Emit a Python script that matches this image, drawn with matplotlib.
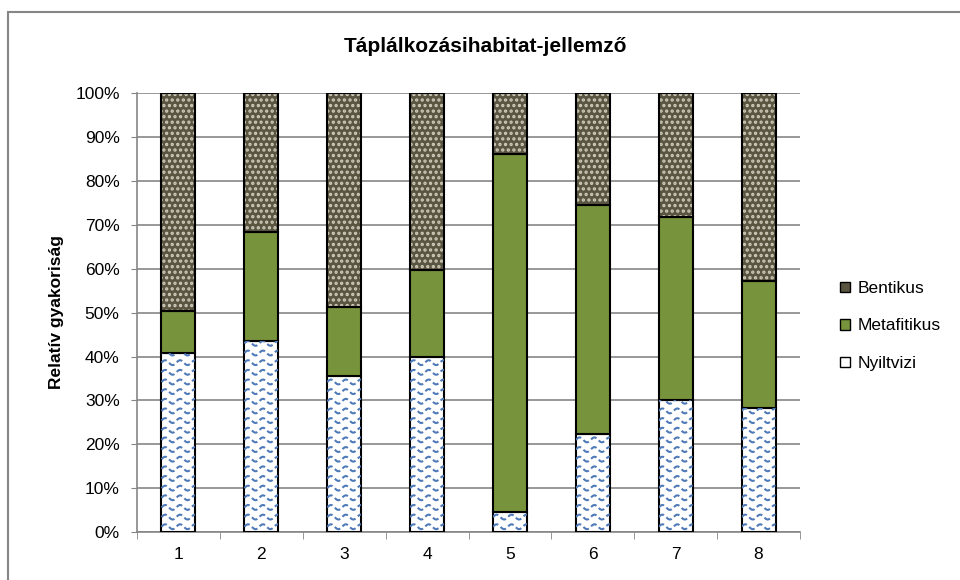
import matplotlib
matplotlib.use("Agg")
import matplotlib.pyplot as plt
import numpy as np
from matplotlib.patches import Patch, Rectangle

plt.rcParams['font.family'] = ['Liberation Sans', 'DejaVu Sans']
plt.rcParams['hatch.linewidth'] = 1.6

# values (percent of each bar)
sites = ['1', '2', '3', '4', '5', '6', '7', '8']
nyiltvizi = [40.9, 43.5, 35.5, 39.8, 4.5, 22.3, 30.1, 28.2]
metafitikus = [9.5, 24.8, 15.9, 19.9, 81.6, 52.3, 41.7, 29.0]
bentikus = [49.6, 31.7, 48.6, 40.3, 13.9, 25.4, 28.2, 42.8]
yticks = [0, 10, 20, 30, 40, 50, 60, 70, 80, 90, 100]

green = '#77933c'
brown = '#5a5541'
dot = '#cfcbbb'
wave = '#4f7ab8'
grid = '#868686'

fig = plt.figure(figsize=(9.6, 5.8), dpi=100)
ax = fig.add_axes([137 / 960, 1 - 532 / 580, (800 - 137) / 960, (532 - 93.3) / 580])

x = np.arange(1, len(sites) + 1)
w = 0.41
bottom2 = np.array(nyiltvizi)
bottom3 = bottom2 + np.array(metafitikus)

b1 = ax.bar(x, nyiltvizi, w, color='white', edgecolor='black', linewidth=1.5, zorder=3)
ax.bar(x, metafitikus, w, bottom=bottom2, color=green, edgecolor='black', linewidth=1.5, zorder=3)
ax.bar(x, bentikus, w, bottom=bottom3, color=brown, edgecolor=dot, hatch='...', linewidth=0, zorder=3)
ax.bar(x, bentikus, w, bottom=bottom3, fill=False, edgecolor='black', linewidth=1.5, zorder=4)

# wavy texture for the open-water segments, clipped to each bar
for rect in b1.patches:
    x0 = rect.get_x()
    xs = np.linspace(x0, x0 + w, 80)
    for y0 in np.arange(1.2, rect.get_height() + 1.5, 2.2):
        ys = y0 + 0.55 * np.sin(2 * np.pi * (xs - x0) / 0.18)
        ln, = ax.plot(xs, ys, color=wave, lw=1.5, ls=(0, (3, 1.5)), zorder=3.5)
        ln.set_clip_path(rect)

ax.set_xlim(0.5, len(sites) + 0.5)
ax.set_ylim(0, 100)
ax.set_yticks(yticks)
ax.set_yticklabels([f'{v}%' for v in yticks], fontsize=12.5)
ax.set_xticks(x)
ax.set_xticklabels(sites, fontsize=12.5)
ax.set_xticks(np.arange(0.5, len(sites) + 1), minor=True)
ax.tick_params(axis='x', which='major', length=0, pad=11)
ax.tick_params(axis='x', which='minor', length=5, color=grid, direction='out')
ax.tick_params(axis='y', length=4.5, color=grid, direction='out', pad=8)

ax.yaxis.grid(True, color=grid, linewidth=1.2)
ax.set_axisbelow(True)
for s in ['top', 'right']:
    ax.spines[s].set_visible(False)
for s in ['left', 'bottom']:
    ax.spines[s].set_color(grid)
    ax.spines[s].set_linewidth(1.2)

fig.text(486 / 960, 1 - 47 / 580, 'Táplálkozásihabitat-jellemző',
         ha='center', va='center', fontsize=15, fontweight='bold')
fig.text(57 / 960, 1 - 312 / 580, 'Relatív gyakoriság', rotation=90,
         ha='center', va='center', fontsize=12.5, fontweight='bold')

handles = [
    Patch(facecolor=brown, edgecolor='black', label='Bentikus'),
    Patch(facecolor=green, edgecolor='black', label='Metafitikus'),
    Patch(facecolor='white', edgecolor='black', label='Nyiltvizi'),
]
fig.legend(handles=handles, loc='center left', bbox_to_anchor=(840 / 960, 1 - 326 / 580),
           frameon=False, fontsize=12.5, handlelength=0.55, handleheight=0.55,
           handletextpad=0.45, labelspacing=1.3, borderpad=0, borderaxespad=0)

fig.add_artist(Rectangle((8 / 960, -0.05), 1.1, 1 - 12 / 580 + 0.05,
                         transform=fig.transFigure, fill=False,
                         edgecolor=grid, linewidth=1.5))

fig.savefig('out.png', dpi=100)
